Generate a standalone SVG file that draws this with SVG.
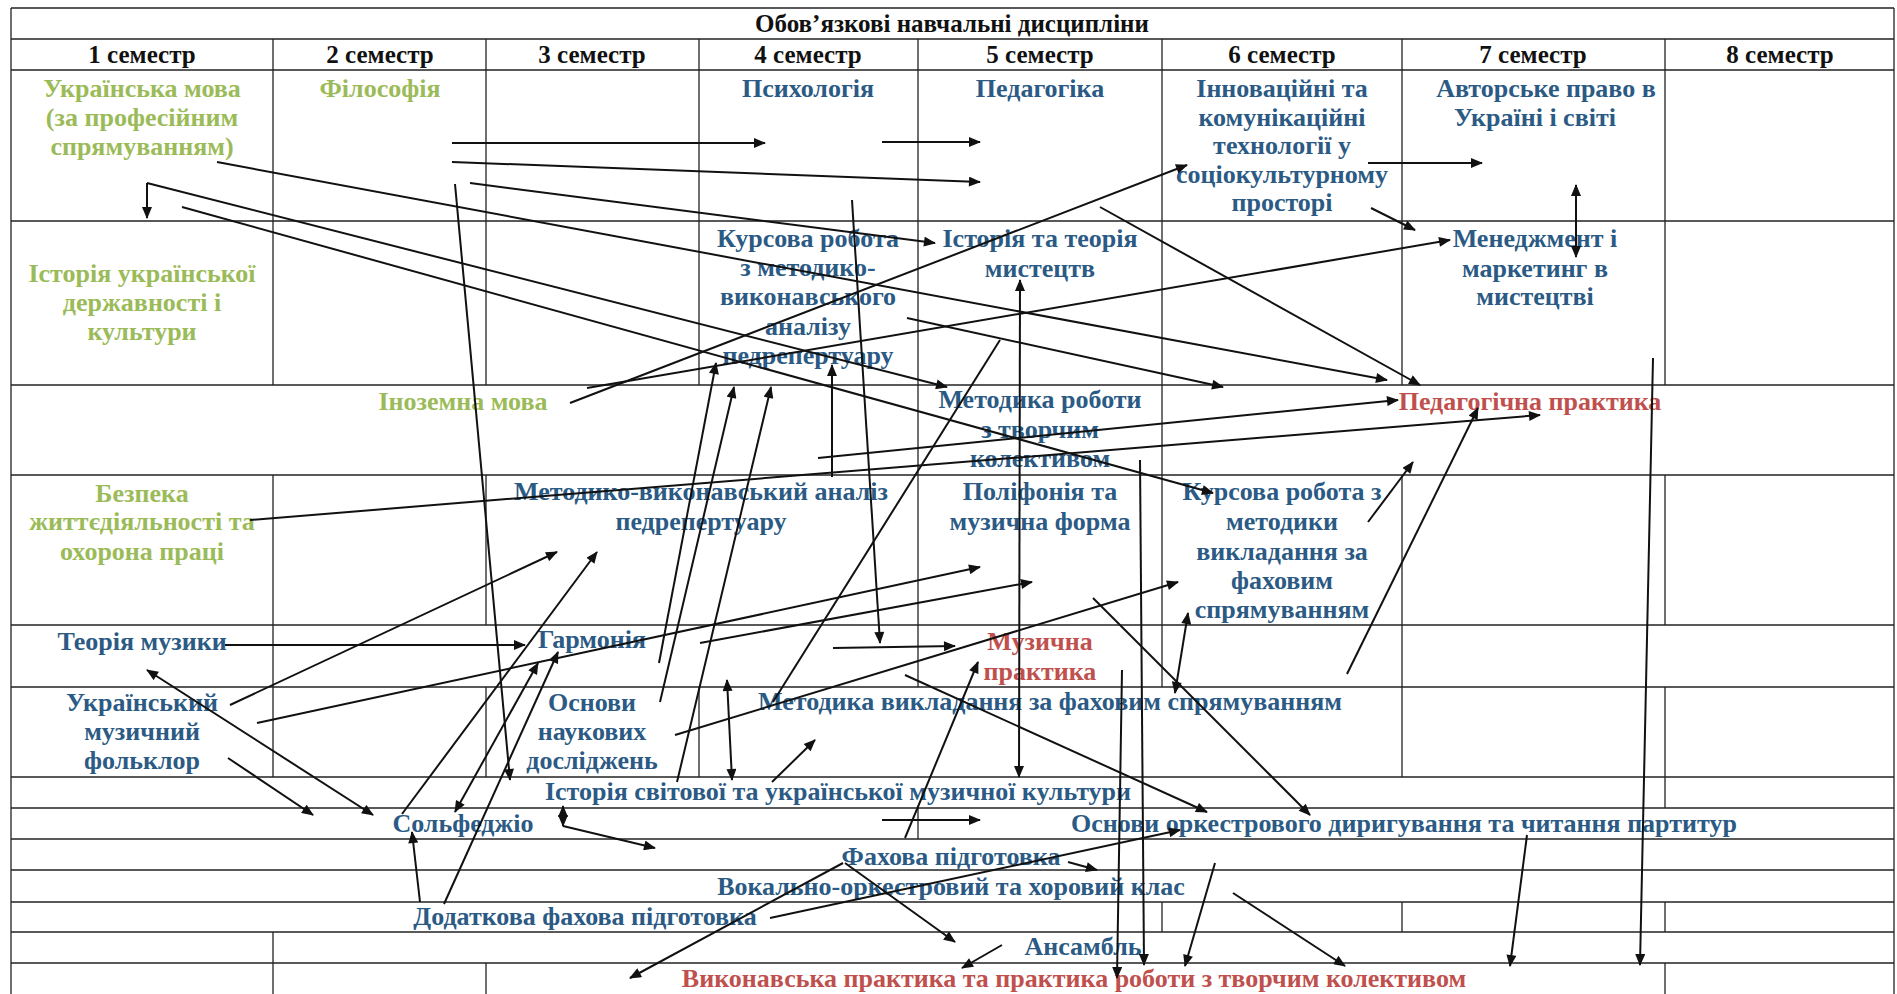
<svg xmlns="http://www.w3.org/2000/svg" width="1897" height="994" viewBox="0 0 1897 994">
<style>
text{font-family:"Liberation Serif","Times New Roman",serif;font-weight:bold;font-size:26px;text-anchor:middle}
.h{fill:#111;font-size:25px}
.g{fill:#9bbb59}
.b{fill:#2b5a84}
.r{fill:#c0504d}
.grid line{stroke:#222;stroke-width:1.3}
.c{stroke:#111;stroke-width:2;fill:none;marker-end:url(#ah)}
.d{marker-start:url(#ah)}
.p{stroke:#111;stroke-width:2;fill:none}
</style>
<defs>
<marker id="ah" viewBox="0 0 12 10" refX="11" refY="5" markerWidth="13" markerHeight="10" markerUnits="userSpaceOnUse" orient="auto-start-reverse"><path d="M0,0 L12,5 L0,10 z" fill="#111"/></marker>
</defs>
<rect x="0" y="0" width="1897" height="994" fill="#fff"/>
<g id="grid" class="grid">
<line x1="11" y1="8" x2="1894" y2="8"/>
<line x1="11" y1="39" x2="1894" y2="39"/>
<line x1="11" y1="70" x2="1894" y2="70"/>
<line x1="11" y1="221" x2="1894" y2="221"/>
<line x1="11" y1="385" x2="1894" y2="385"/>
<line x1="11" y1="475" x2="1894" y2="475"/>
<line x1="11" y1="625" x2="1894" y2="625"/>
<line x1="11" y1="687" x2="1894" y2="687"/>
<line x1="11" y1="777" x2="1894" y2="777"/>
<line x1="11" y1="808" x2="1894" y2="808"/>
<line x1="11" y1="839" x2="1894" y2="839"/>
<line x1="11" y1="870" x2="1894" y2="870"/>
<line x1="11" y1="902" x2="1894" y2="902"/>
<line x1="11" y1="932" x2="1894" y2="932"/>
<line x1="11" y1="963" x2="1894" y2="963"/>
<line x1="11" y1="8" x2="11" y2="994"/>
<line x1="1894" y1="8" x2="1894" y2="994"/>
<line x1="273" y1="39" x2="273" y2="385"/>
<line x1="273" y1="475" x2="273" y2="777"/>
<line x1="273" y1="932" x2="273" y2="994"/>
<line x1="486" y1="39" x2="486" y2="385"/>
<line x1="486" y1="475" x2="486" y2="625"/>
<line x1="486" y1="687" x2="486" y2="777"/>
<line x1="486" y1="963" x2="486" y2="994"/>
<line x1="699" y1="39" x2="699" y2="385"/>
<line x1="699" y1="687" x2="699" y2="777"/>
<line x1="918" y1="39" x2="918" y2="687"/>
<line x1="918" y1="808" x2="918" y2="839"/>
<line x1="1162" y1="39" x2="1162" y2="687"/>
<line x1="1162" y1="902" x2="1162" y2="932"/>
<line x1="1402" y1="39" x2="1402" y2="385"/>
<line x1="1402" y1="475" x2="1402" y2="777"/>
<line x1="1402" y1="902" x2="1402" y2="932"/>
<line x1="1665" y1="39" x2="1665" y2="385"/>
<line x1="1665" y1="475" x2="1665" y2="625"/>
<line x1="1665" y1="687" x2="1665" y2="808"/>
<line x1="1665" y1="902" x2="1665" y2="932"/>
<line x1="1665" y1="963" x2="1665" y2="994"/>
</g>
<g id="header">
<text class="h" x="952" y="32">Обов’язкові навчальні дисципліни</text>
<text class="h" x="142" y="63">1 семестр</text>
<text class="h" x="380" y="63">2 семестр</text>
<text class="h" x="592" y="63">3 семестр</text>
<text class="h" x="808" y="63">4 семестр</text>
<text class="h" x="1040" y="63">5 семестр</text>
<text class="h" x="1282" y="63">6 семестр</text>
<text class="h" x="1533" y="63">7 семестр</text>
<text class="h" x="1780" y="63">8 семестр</text>
</g>
<g id="n-ukr-mova"><text class="g" x="142" y="97">Українська мова</text><text class="g" x="142" y="126">(за професійним</text><text class="g" x="142" y="155">спрямуванням)</text></g>
<g id="n-filosofiia"><text class="g" x="380" y="97">Філософія</text></g>
<g id="n-psykholohiia"><text class="b" x="808" y="97">Психологія</text></g>
<g id="n-pedahohika"><text class="b" x="1040" y="97">Педагогіка</text></g>
<g id="n-innovatsiini"><text class="b" x="1282" y="97">Інноваційні та</text><text class="b" x="1282" y="126">комунікаційні</text><text class="b" x="1282" y="154">технології у</text><text class="b" x="1282" y="183">соціокультурному</text><text class="b" x="1282" y="211">просторі</text></g>
<g id="n-avtorske"><text class="b" x="1546" y="97">Авторське право в</text><text class="b" x="1535" y="126">Україні і світі</text></g>
<g id="n-istoriia-derzh"><text class="g" x="142" y="282">Історія української</text><text class="g" x="142" y="311">державності і</text><text class="g" x="142" y="340">культури</text></g>
<g id="n-kursova-1"><text class="b" x="808" y="247">Курсова робота</text><text class="b" x="808" y="276">з методико-</text><text class="b" x="808" y="305">виконавського</text><text class="b" x="808" y="335">аналізу</text><text class="b" x="808" y="364">педрепертуару</text></g>
<g id="n-istoriia-mystetstv"><text class="b" x="1040" y="247">Історія та теорія</text><text class="b" x="1040" y="277">мистецтв</text></g>
<g id="n-menedzhment"><text class="b" x="1535" y="247">Менеджмент і</text><text class="b" x="1535" y="277">маркетинг в</text><text class="b" x="1535" y="305">мистецтві</text></g>
<g id="n-inozemna"><text class="g" x="463" y="410">Іноземна мова</text></g>
<g id="n-metodyka-roboty"><text class="b" x="1040" y="408">Методика роботи</text><text class="b" x="1040" y="438">з творчим</text><text class="b" x="1040" y="467">колективом</text></g>
<g id="n-ped-praktyka"><text class="r" x="1530" y="410">Педагогічна практика</text></g>
<g id="n-bezpeka"><text class="g" x="142" y="502">Безпека</text><text class="g" x="142" y="530">життєдіяльності та</text><text class="g" x="142" y="560">охорона праці</text></g>
<g id="n-mva"><text class="b" x="701" y="500">Методико-виконавський аналіз</text><text class="b" x="701" y="530">педрепертуару</text></g>
<g id="n-polifoniia"><text class="b" x="1040" y="500">Поліфонія та</text><text class="b" x="1040" y="530">музична форма</text></g>
<g id="n-kursova-2"><text class="b" x="1282" y="500">Курсова робота з</text><text class="b" x="1282" y="530">методики</text><text class="b" x="1282" y="560">викладання за</text><text class="b" x="1282" y="589">фаховим</text><text class="b" x="1282" y="618">спрямуванням</text></g>
<g id="n-teoriia"><text class="b" x="142" y="650">Теорія музики</text></g>
<g id="n-harmoniia"><text class="b" x="592" y="648">Гармонія</text></g>
<g id="n-muz-praktyka"><text class="r" x="1040" y="650">Музична</text><text class="r" x="1040" y="680">практика</text></g>
<g id="n-folklor"><text class="b" x="142" y="711">Український</text><text class="b" x="142" y="740">музичний</text><text class="b" x="142" y="769">фольклор</text></g>
<g id="n-osnovy-nauk"><text class="b" x="592" y="711">Основи</text><text class="b" x="592" y="740">наукових</text><text class="b" x="592" y="769">досліджень</text></g>
<g id="n-metodyka-vykl"><text class="b" x="1050" y="710">Методика викладання за фаховим спрямуванням</text></g>
<g id="n-istoriia-svit"><text class="b" x="838" y="800">Історія світової та української музичної культури</text></g>
<g id="n-solfedzhio"><text class="b" x="463" y="832">Сольфеджіо</text></g>
<g id="n-dyryguvannia"><text class="b" x="1404" y="832">Основи оркестрового диригування та читання партитур</text></g>
<g id="n-fakhova"><text class="b" x="951" y="865">Фахова підготовка</text></g>
<g id="n-vokalno"><text class="b" x="951" y="895">Вокально-оркестровий та хоровий клас</text></g>
<g id="n-dodatkova"><text class="b" x="585" y="925">Додаткова фахова підготовка</text></g>
<g id="n-ansambl"><text class="b" x="1083" y="955">Ансамбль</text></g>
<g id="n-vykon-praktyka"><text class="r" x="1074" y="987">Виконавська практика та практика роботи з творчим колективом</text></g>
<g id="connectors">
<line class="c" x1="452" y1="143" x2="765" y2="143"/>
<line class="c" x1="882" y1="142" x2="980" y2="142"/>
<line class="c" x1="452" y1="162" x2="980" y2="182"/>
<line class="c" x1="217" y1="162" x2="1387" y2="380"/>
<line class="c" x1="470" y1="183" x2="935" y2="243"/>
<line class="c" x1="147" y1="183" x2="147" y2="218"/>
<line class="c" x1="147" y1="183" x2="947" y2="387"/>
<line class="c" x1="182" y1="207" x2="1213" y2="493"/>
<line class="c" x1="907" y1="318" x2="1223" y2="387"/>
<line class="c" x1="1100" y1="207" x2="1420" y2="385"/>
<line class="c" x1="1371" y1="208" x2="1415" y2="230"/>
<line class="c" x1="1368" y1="163" x2="1482" y2="163"/>
<line class="c d" x1="1576" y1="185" x2="1576" y2="257"/>
<line class="c" x1="587" y1="388" x2="1450" y2="240"/>
<line class="c" x1="570" y1="403" x2="1187" y2="165"/>
<line class="c" x1="659" y1="663" x2="716" y2="363"/>
<line class="c" x1="660" y1="702" x2="734" y2="387"/>
<line class="c" x1="677" y1="782" x2="771" y2="387"/>
<line class="c" x1="852" y1="200" x2="880" y2="643"/>
<line class="c" x1="832" y1="477" x2="832" y2="365"/>
<line class="c" x1="818" y1="458" x2="1398" y2="400"/>
<line class="c" x1="250" y1="520" x2="1540" y2="415"/>
<line class="p" x1="1000" y1="340" x2="773" y2="702"/>
<line class="c" x1="230" y1="705" x2="557" y2="552"/>
<line class="c" x1="257" y1="723" x2="980" y2="567"/>
<line class="c" x1="700" y1="643" x2="1032" y2="582"/>
<line class="c" x1="675" y1="735" x2="1178" y2="582"/>
<line class="c" x1="455" y1="184" x2="510" y2="780"/>
<line class="c d" x1="455" y1="812" x2="538" y2="663"/>
<line class="c" x1="444" y1="904" x2="558" y2="652"/>
<line class="c" x1="402" y1="814" x2="597" y2="552"/>
<line class="c" x1="420" y1="902" x2="412" y2="832"/>
<line class="c d" x1="147" y1="670" x2="373" y2="815"/>
<line class="c" x1="228" y1="758" x2="313" y2="815"/>
<line class="c" x1="225" y1="645" x2="525" y2="645"/>
<line class="c" x1="833" y1="648" x2="955" y2="646"/>
<line class="c" x1="905" y1="838" x2="978" y2="662"/>
<line class="c" x1="1347" y1="674" x2="1478" y2="408"/>
<line class="c" x1="1368" y1="522" x2="1413" y2="462"/>
<line class="c" x1="1653" y1="358" x2="1640" y2="965"/>
<line class="c" x1="1527" y1="835" x2="1510" y2="966"/>
<line class="c" x1="1233" y1="893" x2="1345" y2="966"/>
<line class="c" x1="1215" y1="863" x2="1185" y2="966"/>
<line class="c" x1="1002" y1="945" x2="962" y2="968"/>
<line class="c" x1="843" y1="863" x2="630" y2="978"/>
<line class="c" x1="845" y1="863" x2="955" y2="942"/>
<line class="c" x1="1068" y1="862" x2="1097" y2="870"/>
<line class="c" x1="770" y1="918" x2="1180" y2="830"/>
<line class="c d" x1="563" y1="806" x2="563" y2="826"/>
<line class="c" x1="563" y1="826" x2="655" y2="848"/>
<line class="c d" x1="727" y1="680" x2="732" y2="780"/>
<line class="c" x1="772" y1="782" x2="815" y2="740"/>
<line class="c" x1="1093" y1="598" x2="1310" y2="815"/>
<line class="c" x1="905" y1="675" x2="1207" y2="812"/>
<line class="c d" x1="1188" y1="613" x2="1175" y2="693"/>
<line class="c d" x1="1020" y1="280" x2="1019" y2="777"/>
<line class="c" x1="1122" y1="670" x2="1117" y2="978"/>
<line class="c" x1="1140" y1="460" x2="1144" y2="965"/>
<line class="c" x1="882" y1="820" x2="980" y2="820"/>
</g>
</svg>
